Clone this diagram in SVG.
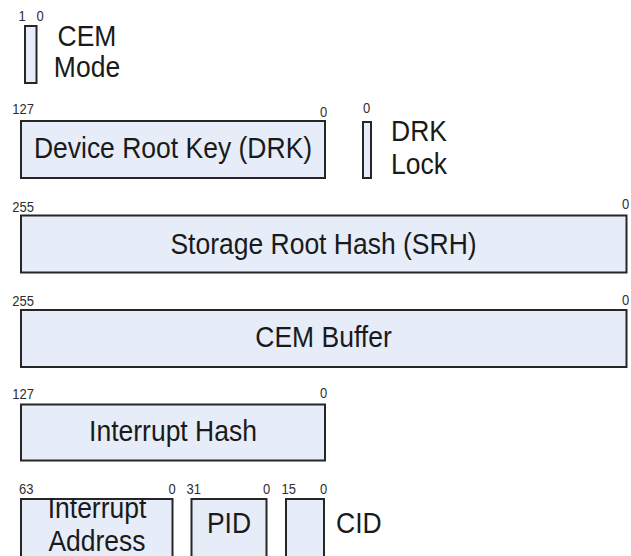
<svg xmlns="http://www.w3.org/2000/svg" width="631" height="556" viewBox="0 0 631 556">
<style>
.box{fill:#e7edf8;stroke:#262626;stroke-width:2}
.big{font-family:"Liberation Sans",Arial,sans-serif;font-size:26.5px;fill:#1a1a1a}
.mid{text-anchor:middle}
.sm{font-family:"Liberation Sans",Arial,sans-serif;font-size:13px;fill:#2e2e2e}
.end{text-anchor:end}
</style>
<rect width="631" height="556" fill="#ffffff"/>
<g id="cem-mode">
<rect class="box" x="25" y="26" width="11.5" height="57"/>
<text class="sm" transform="translate(18.5,20.5) scale(1,1.15)">1</text>
<text class="sm" transform="translate(36.5,20.5) scale(1,1.15)">0</text>
<text class="big mid" transform="translate(87,46) scale(1,1.1)">CEM</text>
<text class="big mid" transform="translate(87,77) scale(1,1.1)">Mode</text>
</g>
<g id="drk">
<rect class="box" x="21" y="121" width="304" height="57"/>
<text class="sm end" transform="translate(34,114) scale(1,1.15)">127</text>
<text class="sm" transform="translate(320,116.5) scale(1,1.15)">0</text>
<text class="big mid" transform="translate(173,158) scale(1,1.13)">Device Root Key (DRK)</text>
</g>
<g id="drk-lock">
<rect class="box" x="363" y="122" width="8" height="56"/>
<text class="sm" transform="translate(363,113) scale(1,1.15)">0</text>
<text class="big" transform="translate(391,141) scale(1,1.1)">DRK</text>
<text class="big" transform="translate(391,173.5) scale(1,1.1)">Lock</text>
</g>
<g id="srh">
<rect class="box" x="21" y="215.5" width="605.5" height="57"/>
<text class="sm end" transform="translate(34,211.5) scale(1,1.15)">255</text>
<text class="sm" transform="translate(622,208.5) scale(1,1.15)">0</text>
<text class="big mid" transform="translate(323.5,253.5) scale(1,1.13)">Storage Root Hash (SRH)</text>
</g>
<g id="cem-buffer">
<rect class="box" x="21" y="310" width="605.5" height="57"/>
<text class="sm end" transform="translate(34,306) scale(1,1.15)">255</text>
<text class="sm" transform="translate(622,305) scale(1,1.15)">0</text>
<text class="big mid" transform="translate(323.5,347) scale(1,1.13)">CEM Buffer</text>
</g>
<g id="interrupt-hash">
<rect class="box" x="21" y="404.5" width="304" height="56"/>
<text class="sm end" transform="translate(34,399) scale(1,1.15)">127</text>
<text class="sm" transform="translate(320,398) scale(1,1.15)">0</text>
<text class="big mid" transform="translate(173,441) scale(1,1.13)">Interrupt Hash</text>
</g>
<g id="interrupt-address">
<rect class="box" x="21" y="499" width="151.5" height="62"/>
<text class="sm end" transform="translate(33.5,493.5) scale(1,1.15)">63</text>
<text class="sm" transform="translate(168.5,493.5) scale(1,1.15)">0</text>
<text class="big mid" transform="translate(97,518) scale(1,1.1)">Interrupt</text>
<text class="big mid" transform="translate(97,550.5) scale(1,1.1)">Address</text>
</g>
<g id="pid">
<rect class="box" x="191.5" y="499" width="75" height="62"/>
<text class="sm" transform="translate(186.5,493.5) scale(1,1.15)">31</text>
<text class="sm" transform="translate(263,493.5) scale(1,1.15)">0</text>
<text class="big mid" transform="translate(229,533) scale(1,1.13)">PID</text>
</g>
<g id="cid">
<rect class="box" x="286" y="499" width="38" height="62"/>
<text class="sm" transform="translate(281.5,493.5) scale(1,1.15)">15</text>
<text class="sm" transform="translate(320,493.5) scale(1,1.15)">0</text>
<text class="big" transform="translate(336,533) scale(1,1.13)">CID</text>
</g>
</svg>
